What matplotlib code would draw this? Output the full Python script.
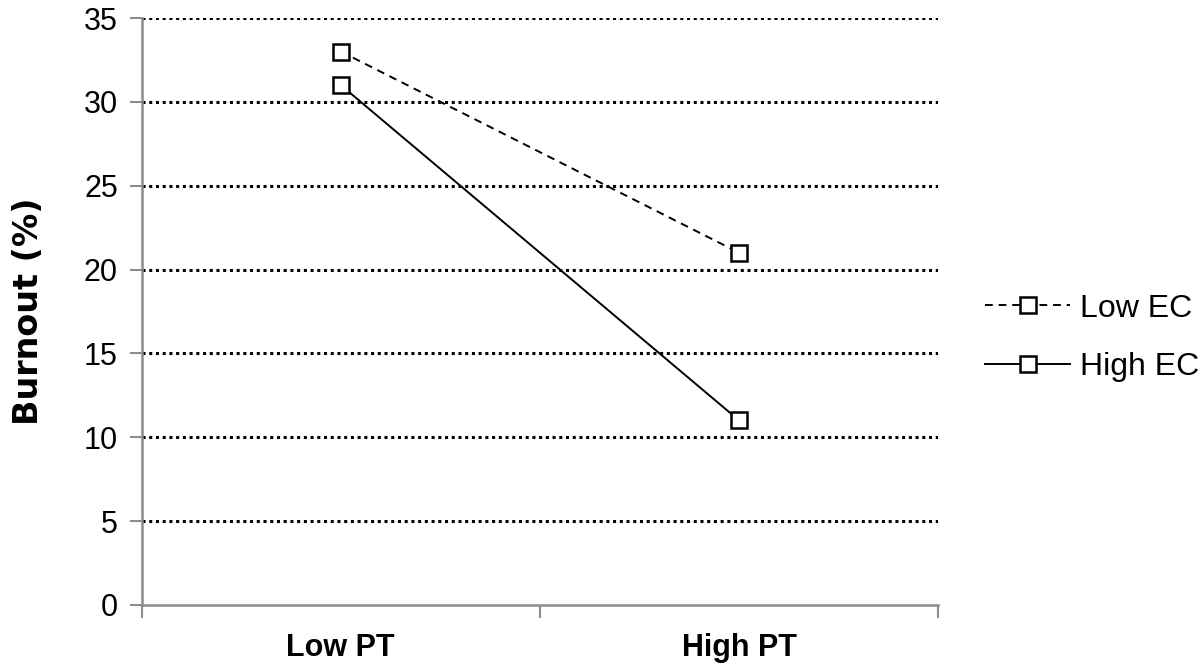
import matplotlib.pyplot as plt

# categories and series values
categories = ['Low PT', 'High PT']
low_ec = [33, 21]
high_ec = [31, 11]
y_ticks = [0, 5, 10, 15, 20, 25, 30, 35]

AXIS_GRAY = '#8c8c8c'

fig = plt.figure(figsize=(12, 6.67), dpi=100)
ax = fig.add_axes([0.118, 0.093, 0.664, 0.880])

x = list(range(len(categories)))
marker_kw = dict(marker='s', markersize=12, markerfacecolor='white',
                 markeredgecolor='black', markeredgewidth=1.8, color='black', lw=1.4)
ax.plot(x, low_ec, linestyle=(0, (4, 3)), label='Low EC', zorder=4, **marker_kw)
ax.plot(x, high_ec, linestyle='-', label='High EC', zorder=4, **marker_kw)

# dotted horizontal gridlines (skip 0, which is the axis itself)
for yv in y_ticks[1:]:
    ax.axhline(yv, color='black', linestyle=(0, (1, 1.2)), lw=2.2, zorder=1)

ax.set_xlim(-0.5, 1.5)
ax.set_ylim(0, 35)
ax.set_yticks(y_ticks)
ax.set_yticklabels([str(v) for v in y_ticks], fontsize=22, family='Liberation Sans')

# category labels centred, tick marks at category boundaries
ax.set_xticks([-0.5, 0.5, 1.5])
ax.set_xticklabels([])
ax.set_xticks(x, minor=True)
ax.set_xticklabels(categories, minor=True, fontsize=22, fontweight='bold',
                   family='Liberation Sans')
ax.tick_params(axis='x', which='minor', length=0, pad=20)
ax.tick_params(axis='x', which='major', length=9, width=1.5, color=AXIS_GRAY, direction='out')
ax.tick_params(axis='y', length=9, width=1.5, color=AXIS_GRAY, direction='out', pad=8)

for side in ['top', 'right']:
    ax.spines[side].set_visible(False)
for side in ['left', 'bottom']:
    ax.spines[side].set_color(AXIS_GRAY)
    ax.spines[side].set_linewidth(1.8)

ax.set_ylabel('Burnout (%)', fontsize=24, fontweight='bold', labelpad=28)

leg = ax.legend(loc='center left', bbox_to_anchor=(1.059, 0.455), frameon=False,
                borderaxespad=0, borderpad=0,
                prop={'family': 'Liberation Sans', 'size': 23},
                handlelength=2.66, handletextpad=0.3, labelspacing=0.9)

plt.savefig('out.png', dpi=100)
